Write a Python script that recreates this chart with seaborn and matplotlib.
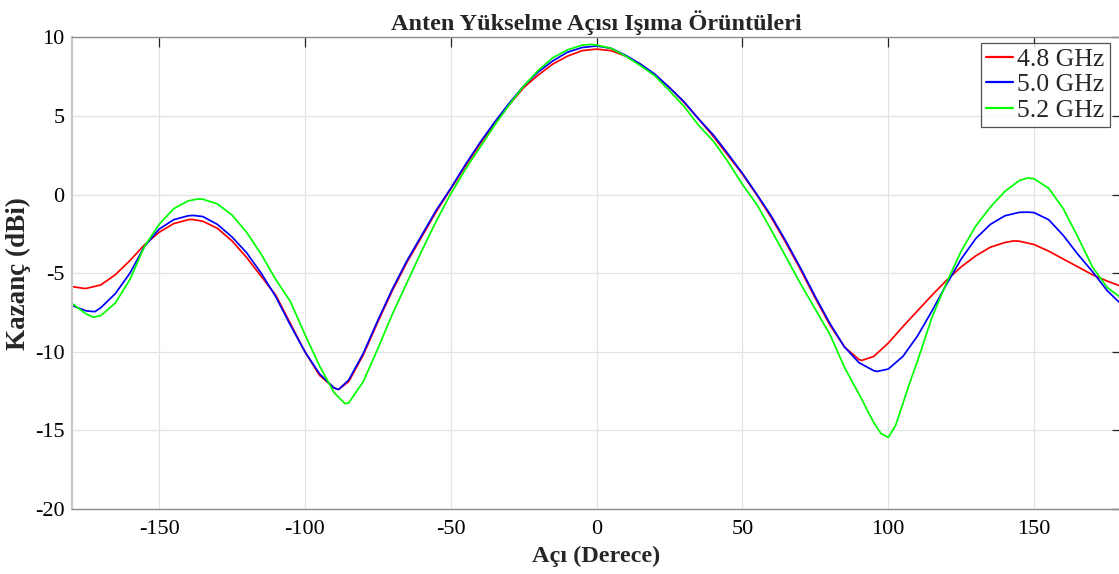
import numpy as np
import pandas as pd
import matplotlib
matplotlib.use("Agg")
import matplotlib.pyplot as plt
import seaborn as sns

angles = list(range(-180, 181, 5))

gain_48 = [-5.85, -5.97, -5.75, -5.1, -4.2, -3.2, -2.4, -1.85, -1.6, -1.7,
           -2.15, -2.95, -4.0, -5.2, -6.4, -8.2, -10.0, -11.5, -12.3, -11.9,
           -10.2, -8.1, -6.1, -4.3, -2.7, -1.1, 0.35, 1.8, 3.2, 4.5,
           5.7, 6.8, 7.6, 8.3, 8.8, 9.15, 9.25, 9.15, 8.8, 8.3,
           7.6, 6.8, 5.85, 4.8, 3.7, 2.5, 1.3, -0.05, -1.5, -3.1,
           -4.8, -6.6, -8.3, -9.7, -10.5, -10.3, -9.45, -8.4, -7.4, -6.4,
           -5.45, -4.6, -3.9, -3.35, -3.05, -2.97, -3.18, -3.6, -4.1, -4.6,
           -5.1, -5.5, -5.85]

gain_50 = [-7.05, -7.4, -7.2, -6.3, -5.0, -3.3, -2.2, -1.6, -1.35, -1.4,
           -1.9, -2.7, -3.7, -5.0, -6.5, -8.3, -10.0, -11.4, -12.3, -11.8,
           -10.1, -8.0, -6.0, -4.2, -2.6, -1.0, 0.4, 1.9, 3.3, 4.6,
           5.8, 6.9, 7.8, 8.5, 9.05, 9.35, 9.45, 9.3, 8.85, 8.3,
           7.65, 6.8, 5.9, 4.8, 3.8, 2.6, 1.35, 0.0, -1.4, -3.0,
           -4.7, -6.5, -8.2, -9.7, -10.7, -11.2, -11.1, -10.3, -9.0, -7.4,
           -5.7, -4.1, -2.8, -1.9, -1.35, -1.13, -1.15, -1.6, -2.6, -3.8,
           -4.9, -6.1, -7.0]

gain_52 = [-6.9, -7.6, -7.7, -6.9, -5.4, -3.3, -1.9, -0.9, -0.4, -0.3,
           -0.6, -1.3, -2.4, -3.8, -5.4, -6.8, -8.9, -10.9, -12.6, -13.25,
           -11.9, -9.8, -7.6, -5.6, -3.6, -1.7, 0.05, 1.6, 3.0, 4.4,
           5.7, 6.9, 7.9, 8.7, 9.2, 9.5, 9.5, 9.3, 8.8, 8.2,
           7.55, 6.6, 5.6, 4.4, 3.4, 2.1, 0.64, -0.65, -2.3, -4.0,
           -5.7, -7.3, -8.9, -11.0, -12.7, -14.5, -15.45, -13.3, -10.6, -7.8,
           -5.6, -3.6, -2.0, -0.8, 0.2, 0.9, 1.0, 0.4, -0.9, -2.7,
           -4.6, -5.9, -6.6]

# extra readings at the extrema of each curve
extra_angles_48 = [-175.4, -138.8, -88.5, 90.9, 143.0]
extra_gain_48 = [-5.98, -1.58, -12.4, -10.55, -2.95]
extra_angles_50 = [-172.0, -138.3, -88.5, 96.2, 147.8]
extra_gain_50 = [-7.45, -1.33, -12.4, -11.25, -1.12]
extra_angles_52 = [-172.5, -136.5, -86.3, -2.0, 97.5, 102.5, 107.5, 148.0]
extra_gain_52 = [-7.8, -0.28, -13.3, 9.55, -15.2, -14.7, -11.9, 1.06]

series_labels = ["4.8 GHz", "5.0 GHz", "5.2 GHz"]
colors = ["#FF0000", "#0000FF", "#00FF00"]
x_ticks = [-150, -100, -50, 0, 50, 100, 150]
y_ticks = [-20, -15, -10, -5, 0, 5, 10]

frames = []
for g, ea, eg, lab in zip([gain_48, gain_50, gain_52],
                          [extra_angles_48, extra_angles_50, extra_angles_52],
                          [extra_gain_48, extra_gain_50, extra_gain_52],
                          series_labels):
    d = pd.DataFrame({"angle": list(angles) + ea, "gain": list(g) + eg})
    d = d.sort_values("angle")
    d["freq"] = lab
    frames.append(d)
df = pd.concat(frames, ignore_index=True)

sns.set_style("white")
plt.rcParams["font.family"] = ["Liberation Serif", "DejaVu Serif"]
plt.rcParams["axes.unicode_minus"] = False

W, H = 1119, 574
fig = plt.figure(figsize=(W / 100, H / 100), dpi=100)
left_px, right_px, top_px, bot_px = 71.6, 1121.6, 37.3, 509.0
ax = fig.add_axes([left_px / W, 1 - bot_px / H,
                   (right_px - left_px) / W, (bot_px - top_px) / H])

sns.lineplot(data=df, x="angle", y="gain", hue="freq",
             palette=dict(zip(series_labels, colors)),
             linewidth=1.25, ax=ax, sort=False, estimator=None)

ax.set_xlim(-180, 180)
ax.set_ylim(-20, 10)
ax.set_xticks(x_ticks)
ax.set_yticks(y_ticks)
ax.tick_params(direction="in", length=7.5, width=0.9, colors="#262626",
               labelsize=16, top=True, right=True, labelcolor="black")
ax.tick_params(axis="x", pad=8)
ax.tick_params(axis="y", pad=5)
ax.grid(True, color="#E3E3E3", linewidth=0.9)
for s in ax.spines.values():
    s.set_color("#8C8C8C")
    s.set_linewidth(1.0)
ax.spines["left"].set_color("#C8C8C8")
ax.spines["left"].set_linewidth(1.6)
ax.set_axisbelow(True)

ax.set_title("Anten Yükselme Açısı Işıma Örüntüleri", fontsize=17.5,
             fontweight="bold", pad=5)
ax.set_xlabel("Açı (Derece)", fontsize=17.5, fontweight="bold", labelpad=5)
ax.set_ylabel("Kazanç (dBi)", fontsize=19.5, fontweight="bold", labelpad=3)

leg = ax.legend(loc="upper right", fontsize=18.5, frameon=True, fancybox=False,
                handlelength=1.05, handletextpad=0.15, borderpad=0.2,
                labelspacing=0.08, borderaxespad=0,
                bbox_to_anchor=(1109.5 / W, 1 - 43.3 / H),
                bbox_transform=fig.transFigure)
leg.get_frame().set_edgecolor("#262626")
leg.get_frame().set_linewidth(0.9)
for line in leg.get_lines():
    line.set_linewidth(1.6)

fig.savefig("out.png", dpi=100)
